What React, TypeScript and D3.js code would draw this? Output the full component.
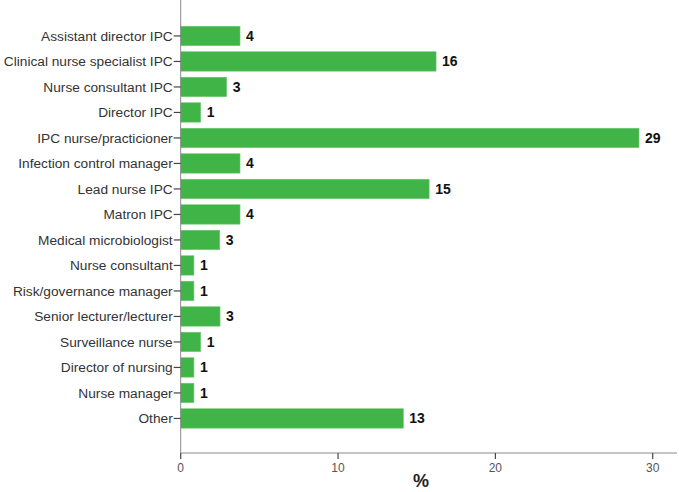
import { useEffect, useRef } from 'react';
import * as d3 from 'd3';

const roles = [
  'Assistant director IPC',
  'Clinical nurse specialist IPC',
  'Nurse consultant IPC',
  'Director IPC',
  'IPC nurse/practicioner',
  'Infection control manager',
  'Lead nurse IPC',
  'Matron IPC',
  'Medical microbiologist',
  'Nurse consultant',
  'Risk/governance manager',
  'Senior lecturer/lecturer',
  'Surveillance nurse',
  'Director of nursing',
  'Nurse manager',
  'Other',
];
const percents = [3.77, 16.23, 2.92, 1.27, 29.13, 3.77, 15.79, 3.77, 2.48, 0.84, 0.84, 2.5, 1.27, 0.84, 0.84, 14.15];
const counts = [4, 16, 3, 1, 29, 4, 15, 4, 3, 1, 1, 3, 1, 1, 1, 13];
const xTicks = [0, 10, 20, 30];

function App() {
  const svgRef = useRef<SVGSVGElement>(null);

  useEffect(() => {
    const w = 679;
    const h = 492;
    const left = 180.7;
    const bottom = 453;
    const font = 'Liberation Sans, Arial, sans-serif';
    const svg = d3.select(svgRef.current).attr('width', w).attr('height', h);
    svg.selectAll('*').remove();

    const x = d3.scaleLinear().domain([0, 30]).range([left, 652.7]);
    const y = d3.scaleBand().domain(roles).range([23.2, 431.2]).paddingInner(0.24).paddingOuter(0.12);

    // bars
    svg.selectAll('.bar').data(roles).join('rect')
      .attr('x', left)
      .attr('y', d => y(d)!)
      .attr('width', (d, i) => x(percents[i]) - left)
      .attr('height', y.bandwidth())
      .attr('fill', '#40b447')
      .attr('stroke', '#6cc66f')
      .attr('stroke-width', 0.6);

    // count labels
    svg.selectAll('.val').data(roles).join('text')
      .attr('x', (d, i) => x(percents[i]) + 6)
      .attr('y', d => y(d)! + y.bandwidth() / 2)
      .attr('dy', '0.36em')
      .attr('font-family', font)
      .attr('font-size', 14)
      .attr('font-weight', 'bold')
      .attr('fill', '#111')
      .text((d, i) => counts[i]);

    // y axis
    svg.append('line')
      .attr('x1', left).attr('x2', left).attr('y1', 0).attr('y2', bottom)
      .attr('stroke', '#8a8a8a').attr('stroke-width', 1);
    svg.selectAll('.ytick').data(roles).join('line')
      .attr('x1', left - 7).attr('x2', left)
      .attr('y1', d => y(d)! + y.bandwidth() / 2)
      .attr('y2', d => y(d)! + y.bandwidth() / 2)
      .attr('stroke', '#444').attr('stroke-width', 1.2);
    svg.selectAll('.ylab').data(roles).join('text')
      .attr('x', left - 8)
      .attr('y', d => y(d)! + y.bandwidth() / 2)
      .attr('dy', '0.35em')
      .attr('text-anchor', 'end')
      .attr('font-family', font)
      .attr('font-size', 13.7)
      .attr('fill', '#333')
      .text(d => d);

    // x axis
    svg.append('line')
      .attr('x1', left).attr('x2', 677).attr('y1', bottom).attr('y2', bottom)
      .attr('stroke', '#8a8a8a').attr('stroke-width', 1);
    svg.selectAll('.xtick').data(xTicks).join('line')
      .attr('x1', d => x(d)).attr('x2', d => x(d))
      .attr('y1', bottom).attr('y2', bottom + 6)
      .attr('stroke', '#444').attr('stroke-width', 1.2);
    svg.selectAll('.xlab').data(xTicks).join('text')
      .attr('x', d => x(d))
      .attr('y', bottom + 19)
      .attr('text-anchor', 'middle')
      .attr('font-family', font)
      .attr('font-size', 12)
      .attr('fill', '#555')
      .text(d => d);

    svg.append('text')
      .attr('x', 421).attr('y', 487)
      .attr('text-anchor', 'middle')
      .attr('font-family', font)
      .attr('font-size', 18)
      .attr('font-weight', 'bold')
      .attr('fill', '#222')
      .text('%');
  }, []);

  return (
    <div style={{ position: 'fixed', left: 0, top: 0 }}>
      <svg ref={svgRef} style={{ display: 'block', background: '#fff' }}></svg>
    </div>
  );
}

export default App;
